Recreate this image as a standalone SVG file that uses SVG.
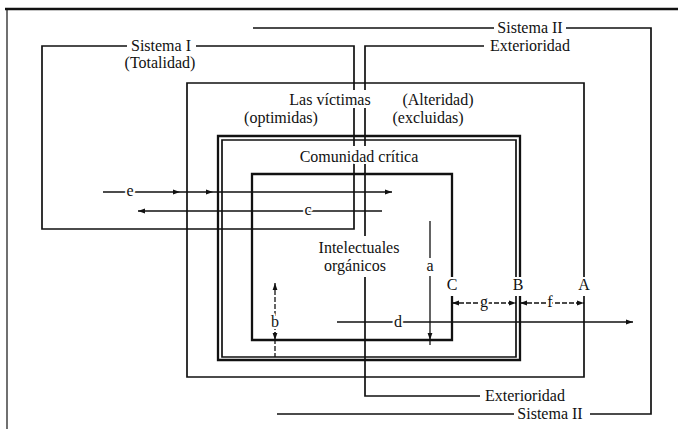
<svg xmlns="http://www.w3.org/2000/svg" width="678" height="429" viewBox="0 0 678 429">
<style>
 .ln{fill:none;stroke:#111;stroke-width:1.7}
 .thk{stroke-width:2.3}
 .thn{stroke-width:1.2}
 .t{font-family:"Liberation Serif","Times New Roman",serif;font-size:16px;fill:#111;text-anchor:middle;stroke:#fff;stroke-width:4px;paint-order:stroke;stroke-linejoin:round}
 .st{text-anchor:start}
 .dim{fill:none;stroke:#111;stroke-width:1.3}
 .dash{stroke-dasharray:5 2}
</style>
<defs>
 <marker id="ah" viewBox="0 0 7 6" refX="7" refY="3" markerWidth="7" markerHeight="6" markerUnits="userSpaceOnUse" orient="auto-start-reverse"><path d="M0,0.6 L7,3 L0,5.4Z" fill="#111"/></marker>
</defs>
<rect width="678" height="429" fill="#fff"/>

<g id="frame">
 <path class="ln thk" d="M5,9H678"/>
 <path class="ln thn" d="M7,9V429" stroke="#444"/>
</g>

<g id="sistema-ii">
 <path class="ln" d="M253,28H494 M566,28H651V414H590 M514,414H277"/>
 <text class="t" x="530" y="33">Sistema II</text>
 <text class="t" x="550" y="419">Sistema II</text>
</g>

<g id="exterioridad">
 <path class="ln" d="M484,46H365V90 M365,108V146 M365,163V236 M365,277V396H480"/>
 <text class="t st" x="490" y="51">Exterioridad</text>
 <text class="t st" x="485" y="401">Exterioridad</text>
</g>

<g id="sistema-i">
 <path class="ln" d="M127,46H42V229H354V163 M354,146V108 M354,90V46H196"/>
 <text class="t" x="161" y="51">Sistema I</text>
 <text class="t" x="160" y="68">(Totalidad)</text>
</g>

<g id="victimas">
 <path class="ln" d="M584,296V377H187V83H584V277"/>
 <text class="t" x="330" y="105">Las víctimas</text>
 <text class="t" x="281" y="123">(optimidas)</text>
 <text class="t" x="438" y="105">(Alteridad)</text>
 <text class="t" x="428" y="123">(excluidas)</text>
 <text class="t" x="584" y="290">A</text>
</g>

<g id="comunidad">
 <path class="ln thk" d="M520,296V360H218V136H520V277"/>
 <path class="ln" d="M516,296V357H222V140H516V277"/>
 <text class="t" x="359" y="162">Comunidad crítica</text>
 <text class="t" x="518" y="290">B</text>
</g>

<g id="intelectuales">
 <path class="ln thk" d="M452,277V174H252V340H452V296"/>
 <text class="t" x="359" y="253">Intelectuales</text>
 <text class="t" x="355" y="271">orgánicos</text>
 <text class="t" x="452" y="290">C</text>
</g>

<g id="connectors">
 <path class="dim" d="M430,221V258 M430,276V340" marker-end="url(#ah)"/>
 <path class="dim" d="M430,340V345"/>
 <text class="t" x="430" y="271">a</text>

 <path class="dim dash" d="M275,283V357" marker-start="url(#ah)"/>
 <path class="dim" d="M275,332V340" marker-end="url(#ah)"/>
 <text class="t" x="275" y="327">b</text>

 <path class="dim" d="M382,211H138" marker-end="url(#ah)"/>
 <text class="t" x="308" y="215">c</text>

 <path class="dim" d="M337,322H633" marker-end="url(#ah)"/>
 <text class="t" x="398" y="327">d</text>

 <path class="dim" d="M103,192H180" marker-end="url(#ah)"/>
 <path class="dim" d="M180,192H213" marker-end="url(#ah)"/>
 <path class="dim thk" d="M213,192H392" marker-end="url(#ah)"/>
 <text class="t" x="130" y="196">e</text>

 <path class="dim dash" d="M452,303H516" marker-start="url(#ah)" marker-end="url(#ah)"/>
 <text class="t" x="484" y="307">g</text>
 <path class="dim dash" d="M520,303H584" marker-start="url(#ah)" marker-end="url(#ah)"/>
 <text class="t" x="550" y="307">f</text>
</g>
</svg>
